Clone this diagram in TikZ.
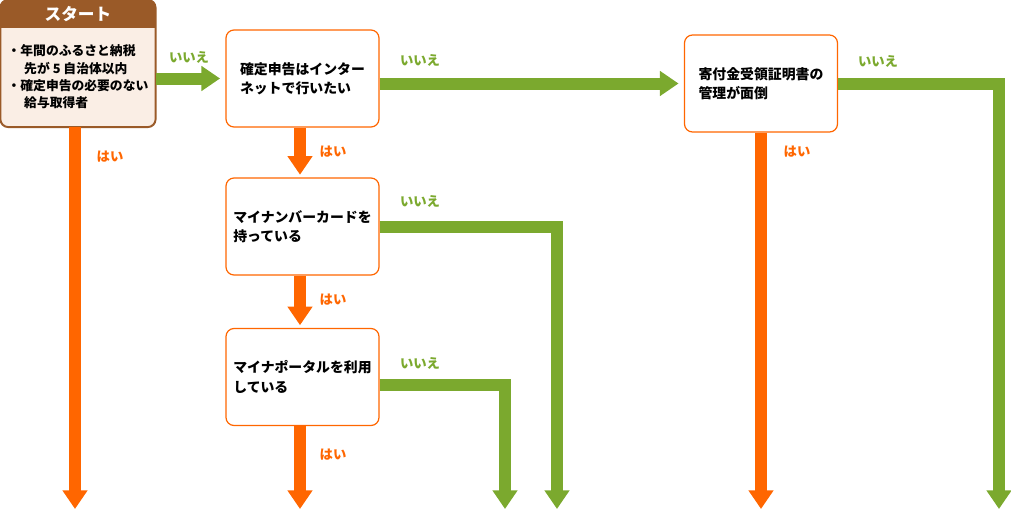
\documentclass[tikz,border=0pt]{standalone}
\usepackage{fontspec}
\setmainfont{Noto Sans CJK JP}
\usetikzlibrary{arrows.meta}
\definecolor{yesorange}{HTML}{FF6600}
\definecolor{nogreen}{HTML}{7BA92E}
\definecolor{hdbrown}{HTML}{9A5A28}
\definecolor{bodycream}{HTML}{FAEEE5}

\begin{document}
\begin{tikzpicture}[x=0.75pt,y=-0.75pt,
  qbox/.style={draw=yesorange, line width=0.9pt, rounded corners=6pt, fill=white,
    minimum width=114.75pt, minimum height=72.75pt, align=left,
    font=\fontsize{10.4}{14.5}\selectfont\bfseries},
  yesarrow/.style={draw=yesorange, line width=9pt, -{Triangle[width=18pt,length=14pt]}},
  noarrow/.style={draw=nogreen, line width=9pt, -{Triangle[width=18pt,length=14pt]}},
  yeslabel/.style={text=yesorange, font=\fontsize{10}{12}\selectfont\bfseries},
  nolabel/.style={text=nogreen, font=\fontsize{10}{12}\selectfont\bfseries}]
  \useasboundingbox (0,0) rectangle (1011,511);

  % start box
  \node[draw=hdbrown, line width=0.9pt, fill=bodycream, rounded corners=6pt,
    minimum width=116pt, minimum height=95pt] (start) at (78,63.5) {};
  \begin{scope}
    \clip[rounded corners=6pt] (start.south west) rectangle (start.north east);
    \fill[hdbrown] (start.north west) rectangle ([yshift=-21pt]start.north east);
  \end{scope}
  \draw[hdbrown, line width=0.9pt, rounded corners=6pt] (start.south west) rectangle (start.north east);
  \node[text=white, font=\fontsize{12.5}{14}\selectfont\bfseries] (title) at (78,14) {スタート};
  \node[align=left, font=\fontsize{9.6}{13}\selectfont\bfseries] (startlist) at (78,77)
    {・年間のふるさと納税\\\hspace{1.3em}先が 5 自治体以内\\・確定申告の必要のない\\\hspace{1.3em}給与取得者};

  % question boxes
  \node[qbox] (online) at (302.5,78.5) {確定申告はインター\\ネットで行いたい};
  \node[qbox] (card) at (302.5,226.5) {マイナンバーカードを\\持っている};
  \node[qbox] (portal) at (302.5,377) {マイナポータルを利用\\している};
  \node[qbox] (receipt) at (761,83.5) {寄付金受領証明書の\\管理が面倒};

  % ends of the arrows
  \coordinate (yesA) at (75,509);
  \coordinate (yesC) at (300,509);
  \coordinate (yesD) at (761,509);
  \coordinate (noB) at (557,509);
  \coordinate (noC) at (505,509);
  \coordinate (noD) at (999,509);

  % yes
  \draw[yesarrow] (start.south -| yesA) -- (yesA);
  \draw[yesarrow, shorten >=2pt] (online.south -| yesC) -- (card.north -| yesC);
  \draw[yesarrow, shorten >=2pt] (card.south -| yesC) -- (portal.north -| yesC);
  \draw[yesarrow] (portal.south -| yesC) -- (yesC);
  \draw[yesarrow] (receipt.south) -- (yesD);

  % no
  \draw[noarrow, shorten >=4pt] (start.east |- online.west) -- (online.west);
  \draw[noarrow, shorten >=4pt] (online.east |- receipt.west) -- (receipt.west);
  \draw[noarrow] (receipt.east) -| (noD);
  \draw[noarrow] (card.east) -| (noB);
  \draw[noarrow] ([yshift=-6pt]portal.east) -| (noC);

  % labels
  \node[nolabel] (noA1) at (189,57) {いいえ};
  \node[nolabel] (noA2) at (420,60) {いいえ};
  \node[nolabel] (noA3) at (878,61) {いいえ};
  \node[nolabel] (noB1) at (420,201) {いいえ};
  \node[nolabel] (noC1) at (420,363) {いいえ};
  \node[yeslabel] (yesA1) at (110,157) {はい};
  \node[yeslabel] (yesB1) at (333,152) {はい};
  \node[yeslabel] (yesC1) at (333,300) {はい};
  \node[yeslabel] (yesC2) at (333,455) {はい};
  \node[yeslabel] (yesD1) at (797,152) {はい};
\end{tikzpicture}
\end{document}
